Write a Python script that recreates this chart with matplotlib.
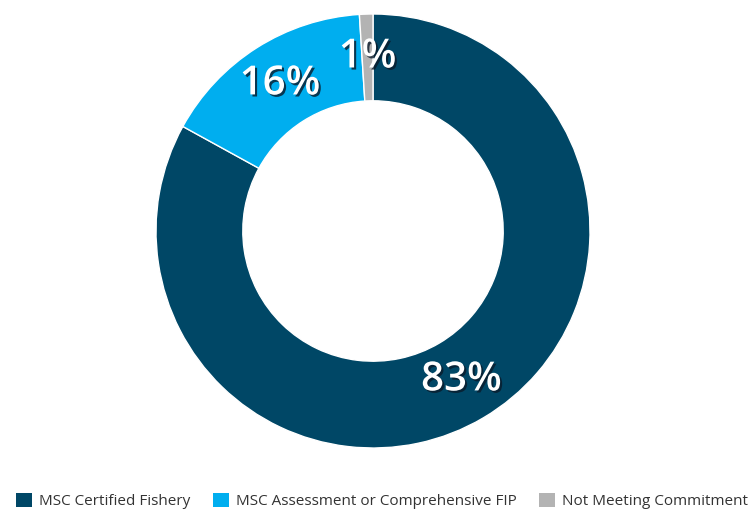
import matplotlib.pyplot as plt
import matplotlib.patheffects as pe
from matplotlib.patches import Patch
import numpy as np

plt.rcParams['font.family'] = ['Open Sans', 'DejaVu Sans']

labels = ['MSC Certified Fishery', 'MSC Assessment or Comprehensive FIP', 'Not Meeting Commitment']
values = [83, 16, 1]
colors = ['#004766', '#00aeef', '#b3b3b3']

W, H = 752, 512
fig = plt.figure(figsize=(W / 100, H / 100), dpi=100)
ax = fig.add_axes([0, 0, 1, 1])

cx, cy, r = 373, H - 231, 217
wedges, texts = ax.pie(values, colors=colors, startangle=90, counterclock=False,
                       center=(cx, cy), radius=r,
                       wedgeprops=dict(width=r * 0.4, edgecolor='white', linewidth=1))

shadow = [pe.SimplePatchShadow(offset=(1.5, -1.5), shadow_rgbFace='#0a1a2a', alpha=0.8), pe.Normal()]
for w, v in zip(wedges, values):
    ang = np.deg2rad((w.theta1 + w.theta2) / 2)
    rr = r * 0.8
    ax.text(cx + rr * np.cos(ang), cy + rr * np.sin(ang), f'{v}%', ha='center', va='center',
            fontsize=29, fontweight='semibold', color='white', path_effects=shadow)

ax.set_xlim(0, W)
ax.set_ylim(0, H)
ax.set_aspect('equal')
ax.axis('off')

handles = [Patch(facecolor=c, label=l) for c, l in zip(colors, labels)]
fig.legend(handles=handles, loc='center', bbox_to_anchor=(382 / W, 1 - 501 / H), ncol=3,
           frameon=False, fontsize=11, labelcolor='#333333',
           handlelength=1.05, handleheight=1.05, handletextpad=0.45, columnspacing=1.5,
           borderaxespad=0)

fig.savefig('out.png', dpi=100)
